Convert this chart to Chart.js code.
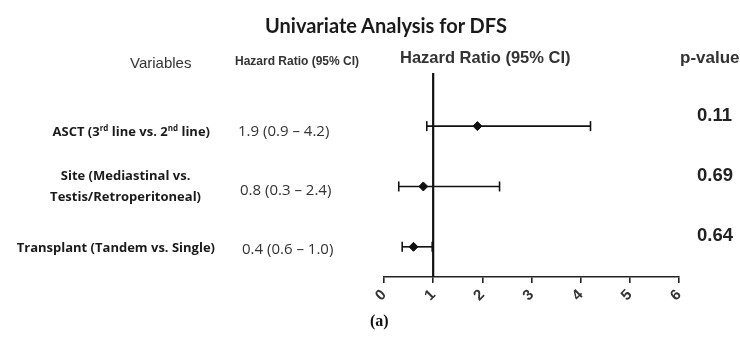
<!DOCTYPE html>
<html>
<head>
<meta charset="utf-8">
<script src="https://cdn.jsdelivr.net/npm/chart.js@4"></script>
<style>
  body { margin: 0; background: #fff; }
  #wrap { position: relative; width: 740px; height: 337px; overflow: hidden; }
  #forest { position: absolute; left: 0; top: 0; }
  .t { position: absolute; white-space: nowrap; color: #222; }
  .title { font-family: Lato, "Open Sans", sans-serif; font-weight: bold; font-size: 20px; color: #1a1a1a; }
  .hdr { font-family: "Liberation Sans", Arial, sans-serif; font-size: 15px; color: #333; }
  .var { font-family: "Open Sans", sans-serif; font-weight: bold; font-size: 13px; color: #1a1a1a; text-align: center; line-height: 21px; }
  .var sup { font-size: 8px; }
  .hr { font-family: "Open Sans", sans-serif; font-size: 15px; color: #333; }
  .pv { font-family: "Liberation Sans", Arial, sans-serif; font-weight: bold; font-size: 18.5px; color: #222; }
</style>
</head>
<body>
<div id="wrap">
  <canvas id="forest" width="740" height="337"></canvas>
</div>
<script>
// values
const variables = ["ASCT (3<sup>rd</sup> line vs. 2<sup>nd</sup> line)", "Site (Mediastinal vs.<br>Testis/Retroperitoneal)", "Transplant (Tandem vs. Single)"];
const hrLabels = ["1.9 (0.9 \u2013 4.2)", "0.8 (0.3 \u2013 2.4)", "0.4 (0.6 \u2013 1.0)"];
const hazard = [1.9, 0.8, 0.6];
const ciLow = [0.87, 0.3, 0.37];
const ciHigh = [4.2, 2.35, 0.98];
const pValues = ["0.11", "0.69", "0.64"];
const xTicks = ["0", "1", "2", "3", "4", "5", "6"];
const refLine = 1;

const wrap = document.getElementById("wrap");
function addText(cls, html, style) {
  const d = document.createElement("div");
  d.className = "t " + cls;
  d.innerHTML = html;
  Object.assign(d.style, style);
  wrap.appendChild(d);
}

addText("title", "Univariate Analysis for DFS", { left: "265px", top: "13px" });
addText("hdr", "Variables", { left: "130px", top: "54px" });
addText("hdr", "Hazard Ratio (95% CI)", { left: "235px", top: "54px", fontSize: "12px", fontWeight: "bold" });
addText("hdr", "Hazard Ratio (95% CI)", { left: "400px", top: "48px", fontSize: "16.5px", fontWeight: "bold" });
addText("hdr", "p-value", { left: "680px", top: "48px", fontSize: "17px", fontWeight: "bold" });
addText("", "(a)", { left: "370px", top: "312px", fontFamily: "'Liberation Serif', serif", fontWeight: "bold", fontSize: "16px", color: "#111" });

const varTops = [117, 165, 237];
const varRight = [210, 201, 215];
variables.forEach((v, i) => {
  addText("var", v, { right: (740 - varRight[i]) + "px", top: varTops[i] + "px" });
});
const rowTops = [120, 179, 238];
hrLabels.forEach((h, i) => addText("hr", h, { left: (238 + i * 2) + "px", top: rowTops[i] + "px" }));
pValues.forEach((p, i) => addText("pv", p, { left: "697px", top: (104 + i * 60) + "px" }));

// datasets
const ciSets = hazard.map((h, i) => ({
  type: "line",
  data: [{ x: ciLow[i], y: i + 1 }, { x: ciHigh[i], y: i + 1 }],
  borderColor: "#111",
  borderWidth: 1.6,
  pointStyle: "line",
  rotation: 90,
  pointRadius: 5,
  pointBorderColor: "#111",
  pointBorderWidth: 1.6
}));

const chart = new Chart(document.getElementById("forest"), {
  type: "scatter",
  data: {
    datasets: [
      {
        type: "line",
        data: [{ x: refLine, y: 0.12 }, { x: refLine, y: 3.5 }],
        borderColor: "#111",
        borderWidth: 2.2,
        pointRadius: 0
      },
      ...ciSets,
      {
        data: hazard.map((h, i) => ({ x: h, y: i + 1 })),
        pointStyle: "rectRot",
        pointRadius: 4.5,
        backgroundColor: "#111",
        borderColor: "#111"
      }
    ]
  },
  options: {
    responsive: false,
    animation: false,
    layout: { padding: { left: 384, right: 61, top: 73, bottom: 0 } },
    plugins: { legend: { display: false }, tooltip: { enabled: false } },
    scales: {
      x: {
        type: "linear",
        min: 0,
        max: 6,
        afterFit: s => { s.height = 60; },
        border: { color: "#222", width: 1.6 },
        grid: { drawOnChartArea: false, color: "#222", lineWidth: 1.6, tickLength: 6 },
        ticks: {
          stepSize: 1,
          maxRotation: 45,
          minRotation: 45,
          padding: 3,
          color: "#333",
          font: { family: "'Liberation Sans', Arial", size: 15, weight: "bold" },
          callback: (v, i) => xTicks[i]
        }
      },
      y: {
        type: "linear",
        reverse: true,
        min: 0.12,
        max: 3.5,
        display: false
      }
    }
  }
});
</script>
</body>
</html>
